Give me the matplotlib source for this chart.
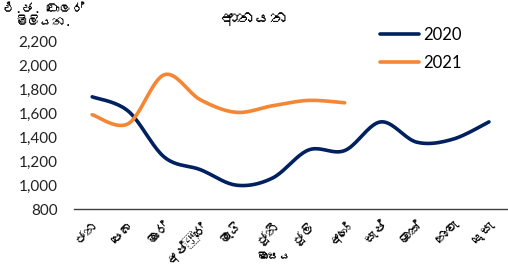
import matplotlib
matplotlib.use("Agg")
import matplotlib.pyplot as plt
import numpy as np
from matplotlib import font_manager, ft2font

months = ["ජන", "පෙබ", "මාර්", "අප්‍රේ", "මැයි", "ජූනි",
          "ජූලි", "අගෝ", "සැප්", "ඔක්", "නොවැ", "දෙසැ"]
imports_2020 = [1740, 1620, 1235, 1130, 1000, 1060, 1295, 1290, 1530, 1360, 1385, 1530]
imports_2021 = [1590, 1515, 1925, 1715, 1610, 1665, 1710, 1690]
yticks = [800, 1000, 1200, 1400, 1600, 1800, 2000, 2200]


def find_sinhala_font():
    # look for any installed face that has Sinhala glyphs
    for f in font_manager.fontManager.ttflist:
        try:
            if 0x0DA2 in ft2font.FT2Font(f.fname).get_charmap():
                return f.name
        except Exception:
            pass
    return None


sin = find_sinhala_font()
plt.rcParams["font.family"] = ["Lato", "DejaVu Sans"]
sin_family = ([sin] if sin else []) + ["DejaVu Sans"]


def smooth(y, n=20):
    # Catmull-Rom curve through the points, like a spreadsheet "smoothed line"
    y = np.asarray(y, float)
    x = np.arange(len(y), dtype=float)
    p = np.vstack([x, y]).T
    p = np.vstack([p[0], p, p[-1]])
    out = []
    for i in range(1, len(p) - 2):
        p0, p1, p2, p3 = p[i - 1], p[i], p[i + 1], p[i + 2]
        t = np.linspace(0, 1, n, endpoint=False)[:, None]
        b1 = p1 + (p2 - p0) / 6
        b2 = p2 - (p3 - p1) / 6
        seg = ((1 - t) ** 3) * p1 + 3 * ((1 - t) ** 2) * t * b1 + 3 * (1 - t) * t ** 2 * b2 + t ** 3 * p2
        out.append(seg)
    out.append(p[-2][None, :])
    out = np.vstack(out)
    return out[:, 0], out[:, 1]


fig = plt.figure(figsize=(5.08, 2.65), dpi=100)
ax = fig.add_axes([0.146, 0.211, 0.852, 0.631])

x20, y20 = smooth(imports_2020)
x21, y21 = smooth(imports_2021)
ax.plot(x20, y20, color="#002060", lw=2.6, label="2020", solid_capstyle="round")
ax.plot(x21, y21, color="#F58634", lw=2.6, label="2021", solid_capstyle="round")

ax.set_xlim(-0.5, 11.5)
ax.set_ylim(800, 2200)
ax.set_yticks(yticks)
ax.set_yticklabels([f"{v:,}" for v in yticks], fontsize=11, color="#222222")
ax.set_xticks(range(len(months)))
ax.set_xticklabels(months, rotation=45, ha="right", rotation_mode="anchor",
                   fontsize=9.5, family=sin_family)
ax.tick_params(axis="both", length=0)
ax.tick_params(axis="y", pad=12)
ax.tick_params(axis="x", pad=7)

for s in ["top", "right", "left"]:
    ax.spines[s].set_visible(False)
ax.spines["bottom"].set_color("#404040")
ax.spines["bottom"].set_linewidth(1.0)

fig.text(0.50, 0.93, "ආනයන", ha="center", va="center", fontsize=12,
         fontweight="bold", family=sin_family)
fig.text(0.085, 0.945, "එ.ජ. ඩොලර්\nමිලියන.", ha="center", va="center",
         fontsize=9, fontweight="bold", linespacing=1.2, family=sin_family)
fig.text(0.54, 0.03, "මාසය", ha="center", va="center", fontsize=8.5,
         fontweight="bold", family=sin_family)

ax.legend(loc="upper right", bbox_to_anchor=(0.91, 1.13), frameon=False,
          borderaxespad=0, fontsize=12, handlelength=2.3, labelspacing=0.75,
          handletextpad=0.25)

fig.savefig("out.png", dpi=100)
